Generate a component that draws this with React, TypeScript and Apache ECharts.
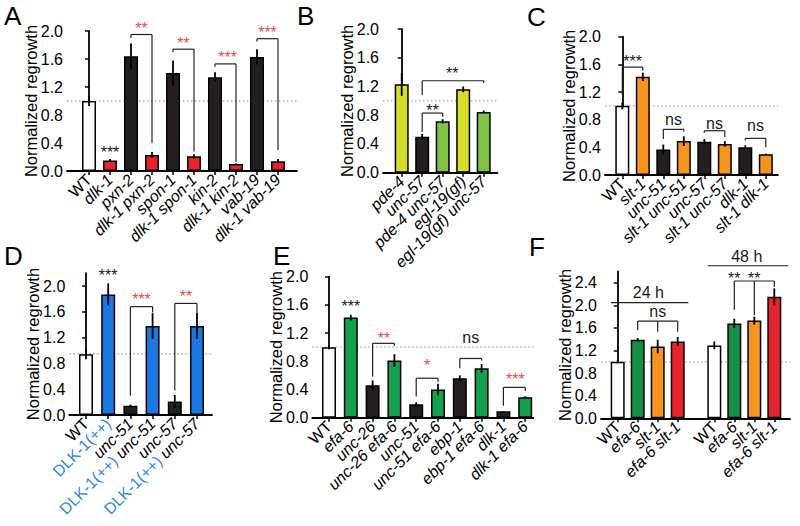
import React, { useEffect, useRef } from 'react';
import * as echarts from 'echarts';

const FONT = '"Liberation Sans", Arial, Helvetica, sans-serif';

const COLORS: Record<string, string> = {
  W: '#ffffff', R: '#e8232b', K: '#231f20', O: '#f7941d', B: '#1b77e2',
  Y: '#d5de2b', L: '#80c343', G: '#14a04c', D: '#159047',
};
const TEXT_COLORS: Record<string, string> = { K: '#1a1a1a', R: '#f04a4f' };

const yTicks20 = [0, 0.4, 0.8, 1.2, 1.6, 2.0];
const yTicks24 = [0, 0.4, 0.8, 1.2, 1.6, 2.0, 2.4];

// Panel A
const aLabels = ['WT', 'dlk-1', 'pxn-2', 'dlk-1 pxn-2', 'spon-1', 'dlk-1 spon-1', 'kin-2', 'dlk-1 kin-2', 'vab-19', 'dlk-1 vab-19'];
const aPositions = [0, 1, 2, 3, 4, 5, 6, 7, 8, 9];
const aValues = [1.0, 0.15, 1.64, 0.23, 1.40, 0.21, 1.34, 0.10, 1.63, 0.14];
const aErrors = [0.07, 0.02, 0.18, 0.04, 0.18, 0.03, 0.07, 0.01, 0.11, 0.03];
const aColors = ['W', 'R', 'K', 'R', 'K', 'R', 'K', 'R', 'K', 'R'];
const aBrackets = [[1.95, 2, 1.90, 3, 0.40], [1.74, 4, 1.70, 5, 0.28], [1.53, 6, 1.49, 7, 0.13], [1.89, 8, 1.85, 9, 0.30]];
const aTexts: [number, number, string, string][] = [[1, 0.31, '***', 'K'], [2.5, 2.08, '**', 'R'], [4.5, 1.87, '**', 'R'], [6.6, 1.67, '***', 'R'], [8.5, 2.02, '***', 'R']];

// Panel B
const bLabels = ['pde-4', 'unc-57', 'pde-4 unc-57', 'egl-19(gf)', 'egl-19(gf) unc-57'];
const bPositions = [0, 1, 2, 3, 4];
const bValues = [1.23, 0.50, 0.715, 1.16, 0.845];
const bErrors = [0.16, 0.04, 0.03, 0.04, 0.02];
const bColors = ['Y', 'K', 'L', 'Y', 'L'];
const bBrackets = [[0.83, 1, 0.57, 2, 0.78], [1.28, 1, 1.08, 4, 1.25]];
const bTexts: [number, number, string, string][] = [[1.5, 0.91, '**', 'K'], [2.47, 1.42, '**', 'K']];

// Panel C
const cLabels = ['WT', 'slt-1', 'unc-51', 'slt-1 unc-51', 'unc-57', 'slt-1 unc-57', 'dlk-1', 'slt-1 dlk-1'];
const cPositions = [0, 1, 2, 3, 4, 5, 6, 7];
const cValues = [1.0, 1.42, 0.37, 0.49, 0.48, 0.45, 0.40, 0.30];
const cErrors = [0.05, 0.06, 0.07, 0.07, 0.04, 0.04, 0.03, 0.01];
const cColors = ['W', 'O', 'K', 'O', 'K', 'O', 'K', 'O'];
const cBrackets = [[1.56, 0, 1.16, 1, 1.51], [0.66, 2, 0.52, 3, 0.63], [0.64, 4, 0.61, 5, 0.55], [0.53, 6, 0.50, 7, 0.40]];
const cTexts: [number, number, string, string][] = [[0.5, 1.69, '***', 'K'], [2.5, 0.80, 'ns', 'K'], [4.5, 0.75, 'ns', 'K'], [6.5, 0.71, 'ns', 'K']];

// Panel D
const dLabels = ['WT', 'DLK-1(++)', 'unc-51', 'DLK-1(++) unc-51', 'unc-57', 'DLK-1(++) unc-57'];
const dPositions = [0, 1, 2, 3, 4, 5];
const dValues = [0.94, 1.87, 0.145, 1.38, 0.21, 1.38];
const dErrors = [0.075, 0.17, 0.015, 0.2, 0.1, 0.2];
const dColors = ['W', 'B', 'K', 'B', 'K', 'B'];
const dBrackets = [[1.68, 2, 0.30, 3, 1.59], [1.73, 4, 0.38, 5, 1.58]];
const dTexts: [number, number, string, string][] = [[1, 2.21, '***', 'K'], [2.5, 1.83, '***', 'R'], [4.5, 1.89, '**', 'R']];

// Panel E
const eLabels = ['WT', 'efa-6', 'unc-26', 'unc-26 efa-6', 'unc-51', 'unc-51 efa-6', 'ebp-1', 'ebp-1 efa-6', 'dlk-1', 'dlk-1 efa-6'];
const ePositions = [0, 1, 2, 3, 4, 5, 6, 7, 8, 9];
const eValues = [1.0, 1.42, 0.46, 0.81, 0.19, 0.40, 0.56, 0.70, 0.09, 0.29];
const eErrors = [0.03, 0.04, 0.07, 0.09, 0.03, 0.08, 0.04, 0.06, 0.005, 0.015];
const eColors = ['W', 'G', 'K', 'G', 'K', 'G', 'K', 'G', 'K', 'G'];
const eBrackets = [[1.055, 2, 0.58, 3, 1.02], [0.56, 4, 0.30, 5, 0.51], [0.84, 6, 0.70, 7, 0.81], [0.43, 8, 0.17, 9, 0.38]];
const eTexts: [number, number, string, string][] = [[1, 1.62, '***', 'K'], [2.52, 1.16, '**', 'R'], [4.5, 0.78, '*', 'R'], [6.5, 1.14, 'ns', 'K'], [8.55, 0.59, '***', 'R']];

// Panel F
const fLabels = ['WT', 'efa-6', 'slt-1', 'efa-6 slt-1', 'WT', 'efa-6', 'slt-1', 'efa-6 slt-1'];
const fPositions = [0, 1, 2, 3, 4.83, 5.83, 6.83, 7.83];
const fValues = [1.0, 1.39, 1.27, 1.36, 1.29, 1.68, 1.73, 2.15];
const fErrors = [0.03, 0.03, 0.12, 0.08, 0.07, 0.08, 0.07, 0.15];
const fColors = ['W', 'D', 'O', 'R', 'W', 'D', 'O', 'R'];
const fBrackets = [
  [2.046, -0.335, 2.046, 3.53, 2.046],
  [1.72, 1, 1.56, 2, 1.53, 3, 1.53],
  [2.70, 4.5, 2.70, 8.53, 2.70],
  [2.43, 5.83, 1.92, 6.83, 1.83, 7.83, 2.33],
];
const fTexts: [number, number, string, string][] = [[1.53, 2.22, '24 h', 'K'], [2, 1.89, 'ns', 'K'], [6.45, 2.86, '48 h', 'K'], [5.83, 2.52, '**', 'K'], [6.83, 2.52, '**', 'K']];

type Panel = {
  left: number; top: number; width: number; height: number;
  xMin: number; xMax: number; yMax: number; yTicks: number[];
  labels: string[]; positions: number[]; values: number[]; errors: number[]; colors: string[];
  ref: number; brackets: number[][]; texts: [number, number, string, string][];
};

const panels: Panel[] = [
  { left: 67, top: 31, width: 230, height: 140, xMin: -1.048, xMax: 9.905, yMax: 2.0, yTicks: yTicks20,
    labels: aLabels, positions: aPositions, values: aValues, errors: aErrors, colors: aColors, ref: 1.0, brackets: aBrackets, texts: aTexts },
  { left: 383, top: 29, width: 114.5, height: 143.7, xMin: -0.912, xMax: 4.673, yMax: 2.0, yTicks: yTicks20,
    labels: bLabels, positions: bPositions, values: bValues, errors: bErrors, colors: bColors, ref: 1.0, brackets: bBrackets, texts: bTexts },
  { left: 605, top: 36.7, width: 173, height: 138.3, xMin: -0.844, xMax: 7.595, yMax: 2.0, yTicks: yTicks20,
    labels: cLabels, positions: cPositions, values: cValues, errors: cErrors, colors: cColors, ref: 1.0, brackets: cBrackets, texts: cTexts },
  { left: 69.3, top: 273.1, width: 142.7, height: 141.9, xMin: -0.752, xMax: 5.676, yMax: 2.2, yTicks: yTicks20,
    labels: dLabels, positions: dPositions, values: dValues, errors: dErrors, colors: dColors, ref: 0.95, brackets: dBrackets, texts: dTexts },
  { left: 312.3, top: 276.7, width: 221, height: 141, xMin: -0.766, xMax: 9.37, yMax: 2.0, yTicks: yTicks20,
    labels: eLabels, positions: ePositions, values: eValues, errors: eErrors, colors: eColors, ref: 1.0, brackets: eBrackets, texts: eTexts },
  { left: 601, top: 271.4, width: 189, height: 146.9, xMin: -0.835, xMax: 8.615, yMax: 2.6, yTicks: yTicks24,
    labels: fLabels, positions: fPositions, values: fValues, errors: fErrors, colors: fColors, ref: 1.0, brackets: fBrackets, texts: fTexts },
];

const LABEL_SIZE = 16;
const RICH = {
  n: { fontSize: LABEL_SIZE, fontFamily: FONT, color: '#000' },
  i: { fontSize: LABEL_SIZE, fontFamily: FONT, color: '#000', fontStyle: 'italic' },
  b: { fontSize: LABEL_SIZE, fontFamily: FONT, color: '#2a86ec' },
};

function richLabel(s: string) {
  if (s === 'WT') return '{n|WT}';
  const pre = 'DLK-1(++)';
  if (s.indexOf(pre) === 0) {
    const rest = s.slice(pre.length);
    return '{b|' + pre + '}' + (rest ? '{i|' + rest + '}' : '');
  }
  return '{i|' + s + '}';
}

// split positions into runs of unit spacing (one label axis per run)
function runs(pos: number[]) {
  const out: number[][] = [];
  let cur: number[] = [0];
  for (let k = 1; k < pos.length; k++) {
    if (Math.abs(pos[k] - pos[k - 1] - 1) < 1e-6) cur.push(k);
    else { out.push(cur); cur = [k]; }
  }
  out.push(cur);
  return out;
}

function buildOption() {
  const grid: any[] = [];
  const xAxis: any[] = [];
  const yAxis: any[] = [];
  const series: any[] = [];
  const labelGrids: any[] = [];
  const labelX: any[] = [];
  const labelY: any[] = [];
  panels.forEach((p, i) => {
    grid.push({ left: p.left, top: p.top, width: p.width, height: p.height, containLabel: false, outerBoundsMode: 'none' });
    xAxis.push({
      type: 'value', gridIndex: i, min: p.xMin, max: p.xMax,
      axisLine: { show: true, onZero: false, lineStyle: { color: '#000', width: 1.8 } },
      axisTick: { show: true, customValues: p.positions, length: 4, lineStyle: { color: '#000', width: 1.5 } },
      axisLabel: { show: false },
      splitLine: { show: false },
    });
    yAxis.push({
      type: 'value', gridIndex: i, min: 0, max: p.yMax, interval: 0.4,
      axisLine: { show: true, lineStyle: { color: '#000', width: 1.8 } },
      axisTick: { show: true, length: 4, customValues: p.yTicks, lineStyle: { color: '#000', width: 1.5 } },
      axisLabel: {
        customValues: p.yTicks, showMinLabel: true, showMaxLabel: true,
        formatter: (v: number) => v.toFixed(1), fontSize: 16, fontFamily: FONT, color: '#000', margin: 4,
      },
      splitLine: { show: false },
      name: 'Normalized regrowth', nameLocation: 'middle', nameGap: 28, nameMoveOverlap: false,
      nameTextStyle: { fontSize: 16.5, fontFamily: FONT, color: '#000' },
    });
    // category label axes, band centres placed on the bar positions
    const unit = p.width / (p.xMax - p.xMin);
    runs(p.positions).forEach((run) => {
      const start = p.positions[run[0]] - 0.5;
      labelGrids.push({
        left: p.left + (start - p.xMin) * unit, top: p.top, width: run.length * unit, height: p.height,
        containLabel: false, outerBoundsMode: 'none',
      });
      labelX.push({
        type: 'category', data: run.map((k) => p.labels[k]),
        axisLine: { show: false }, axisTick: { show: false }, splitLine: { show: false },
        axisLabel: {
          show: true, interval: 0, rotate: 45, margin: 6, hideOverlap: false,
          formatter: (v: string) => richLabel(v), rich: RICH, fontSize: LABEL_SIZE, fontFamily: FONT, color: '#000',
        },
      });
      labelY.push({ type: 'value', show: false, min: 0, max: 1 });
    });
    series.push({
      type: 'custom', xAxisIndex: i, yAxisIndex: i, z: 1, silent: true,
      data: [[p.xMin, p.ref]],
      renderItem: (params: any, api: any) => {
        const a = api.coord([p.xMin, p.ref]);
        const b = api.coord([p.xMax, p.ref]);
        return { type: 'line', shape: { x1: a[0], y1: a[1], x2: b[0], y2: b[1] }, style: { stroke: '#adadad', lineWidth: 1.3, lineDash: [1.5, 2.5] } };
      },
    });
    series.push({
      type: 'bar', xAxisIndex: i, yAxisIndex: i, z: 2, barWidth: 14, silent: true,
      data: p.positions.map((x, k) => ({
        value: [x, p.values[k]],
        itemStyle: { color: COLORS[p.colors[k]], borderColor: '#000', borderWidth: 1.5 },
      })),
    });
    series.push({
      type: 'custom', xAxisIndex: i, yAxisIndex: i, z: 3, silent: true,
      data: p.positions.map((x, k) => [x, p.values[k], p.errors[k]]),
      renderItem: (params: any, api: any) => {
        const x = api.value(0), v = api.value(1), e = api.value(2);
        const a = api.coord([x, v + e]);
        const b = api.coord([x, v - e]);
        return { type: 'line', shape: { x1: a[0], y1: a[1], x2: b[0], y2: b[1] }, style: { stroke: '#000', lineWidth: 1.8 } };
      },
    });
    series.push({
      type: 'custom', xAxisIndex: i, yAxisIndex: i, z: 4, silent: true,
      data: p.brackets.map((b) => [b[1], b[0]]),
      renderItem: (params: any, api: any) => {
        const b = p.brackets[params.dataIndex];
        const lineY = b[0];
        const children: any[] = [];
        const style = { stroke: '#222', lineWidth: 1.2 };
        const xs: number[] = [];
        for (let k = 1; k < b.length; k += 2) {
          xs.push(b[k]);
          const top = api.coord([b[k], lineY]);
          const end = api.coord([b[k], b[k + 1]]);
          if (Math.abs(end[1] - top[1]) > 0.5) {
            children.push({ type: 'line', shape: { x1: top[0], y1: top[1], x2: end[0], y2: end[1] }, style });
          }
        }
        const s = api.coord([xs[0], lineY]);
        const e = api.coord([xs[xs.length - 1], lineY]);
        children.push({ type: 'line', shape: { x1: s[0], y1: s[1], x2: e[0], y2: e[1] }, style });
        return { type: 'group', children };
      },
    });
    series.push({
      type: 'custom', xAxisIndex: i, yAxisIndex: i, z: 5, silent: true,
      data: p.texts.map((t) => [t[0], t[1]]),
      renderItem: (params: any, api: any) => {
        const t = p.texts[params.dataIndex];
        const c = api.coord([t[0], t[1]]);
        const isStar = t[2].indexOf('*') >= 0;
        return {
          type: 'text', x: c[0], y: c[1] + (isStar ? 3 : 0),
          style: { text: t[2], fill: TEXT_COLORS[t[3]], fontSize: 16, fontFamily: FONT, align: 'center', verticalAlign: 'middle' },
        };
      },
    });
  });
  const base = grid.length;
  labelGrids.forEach((g, j) => {
    grid.push(g);
    xAxis.push({ ...labelX[j], gridIndex: base + j });
    yAxis.push({ ...labelY[j], gridIndex: base + j });
  });
  const letters = [['A', 4, 3], ['B', 297, 3], ['C', 527, 4], ['D', 4, 243], ['E', 273, 243], ['F', 529, 234]];
  const graphic = letters.map((l) => ({
    type: 'text', left: l[1], top: l[2],
    style: { text: l[0], fontSize: 26, fontFamily: FONT, fill: '#000' },
  }));
  return { animation: false, backgroundColor: '#ffffff', grid, xAxis, yAxis, series, graphic };
}

export default function App() {
  const ref = useRef<HTMLDivElement>(null);
  useEffect(() => {
    if (!ref.current) return;
    const chart = echarts.init(ref.current, undefined, { renderer: 'svg' });
    chart.setOption(buildOption() as any);
    return () => chart.dispose();
  }, []);
  return <div ref={ref} style={{ position: 'fixed', left: 0, top: 0, width: 800, height: 526 }} />;
}
